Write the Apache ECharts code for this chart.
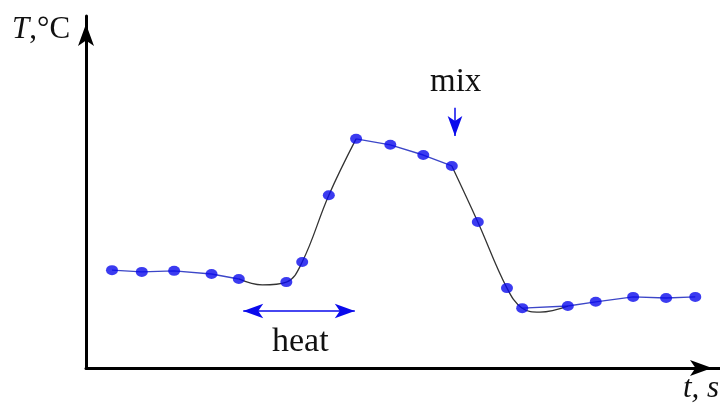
<!DOCTYPE html>
<html>
<head>
<meta charset="utf-8">
<script src="https://cdn.jsdelivr.net/npm/echarts@6/dist/echarts.min.js"></script>
<style>
html,body{margin:0;padding:0;background:#fff;}
#chart{width:720px;height:405px;}
</style>
</head>
<body>
<div id="chart"></div>
<script>
// Measured points (arbitrary units: time t, temperature T)
const timeS = [4.1, 8.8, 13.9, 19.8, 24.1, 31.6, 34.1, 38.3, 42.6, 48.0, 53.2, 57.7, 61.8, 66.4, 68.8, 76.0, 80.4, 86.3, 91.5, 96.1];
const tempC = [27.8, 27.3, 27.6, 26.7, 25.3, 24.4, 30.1, 49.1, 65.1, 63.4, 60.5, 57.4, 41.5, 22.7, 17.0, 17.6, 18.8, 20.2, 19.9, 20.2];

// Fitted (black) curve through the transitions
const heatCurveT = [24.1, 27.8, 31.6, 34.1, 38.3, 42.6];
const heatCurveV = [25.3, 23.6, 24.4, 30.1, 49.1, 65.1];
const coolCurveT = [57.7, 61.8, 66.4, 68.8, 71.6, 76.0];
const coolCurveV = [57.4, 41.5, 22.7, 17.0, 15.9, 17.6];

// Blue connecting segments (index ranges into the measured points)
const blueSegments = [[0, 4], [8, 11], [14, 19]];

// Annotations
const heatArrow = { t0: 24.8, t1: 42.4, T: 16.2, label: 'heat' };
const mixArrow = { t: 58.2, T0: 73.9, T1: 65.9, label: 'mix' };
const axisNames = { y: 'T', yUnit: ',°C', x: 't, s' };

const pts = timeS.map((t, i) => [t, tempC[i]]);
const zip = (a, b) => a.map((v, i) => [v, b[i]]);

const blueColor = '#0a0aec';
const series = [];
blueSegments.forEach(([a, b]) => {
  series.push({
    type: 'line', data: pts.slice(a, b + 1), symbol: 'none', silent: true,
    lineStyle: { color: '#3c46c8', width: 1.4 }, z: 2
  });
});
series.push({
  type: 'line', data: zip(heatCurveT, heatCurveV), smooth: 0.4, symbol: 'none', silent: true,
  lineStyle: { color: '#333', width: 1.3 }, z: 3
});
series.push({
  type: 'line', data: zip(coolCurveT, coolCurveV), smooth: 0.4, symbol: 'none', silent: true,
  lineStyle: { color: '#333', width: 1.3 }, z: 3
});
series.push({
  type: 'scatter', data: pts, symbol: 'circle', symbolSize: [12, 10], silent: true,
  itemStyle: { color: blueColor }, z: 5,
  markLine: {
    silent: true, animation: false,
    label: { show: false },
    lineStyle: { color: blueColor, width: 1.5, type: 'solid' },
    symbolSize: [11, 20],
    data: [
      [{ coord: [heatArrow.t0, heatArrow.T], symbol: 'arrow' }, { coord: [heatArrow.t1, heatArrow.T], symbol: 'arrow' }],
      [{ coord: [mixArrow.t, mixArrow.T0], symbol: 'none' }, { coord: [mixArrow.t, mixArrow.T1], symbol: 'arrow' }]
    ]
  }
});

const chart = echarts.init(document.getElementById('chart'), null, { renderer: 'canvas' });
const serif = '"Liberation Serif", "Times New Roman", serif';
chart.setOption({
  animation: false,
  backgroundColor: '#fff',
  grid: { left: 86, right: 0, top: 16, bottom: 37 },
  xAxis: {
    type: 'value', min: 0, max: 100,
    axisLine: { show: true, onZero: false, symbol: ['none', 'arrow'], symbolSize: [12, 22], symbolOffset: [0, -8], lineStyle: { color: '#000', width: 3 } },
    axisTick: { show: false }, axisLabel: { show: false }, splitLine: { show: false }
  },
  yAxis: {
    type: 'value', min: 0, max: 100,
    axisLine: { show: true, onZero: false, symbol: ['none', 'arrow'], symbolSize: [12, 22], symbolOffset: [0, -8], lineStyle: { color: '#000', width: 3 } },
    axisTick: { show: false }, axisLabel: { show: false }, splitLine: { show: false }
  },
  graphic: [
    { type: 'text', left: 12, top: 14, style: {
        text: '{i|' + axisNames.y + '}' + axisNames.yUnit, fill: '#111', font: '31px ' + serif,
        rich: { i: { fontStyle: 'italic', fontSize: 31, fontFamily: serif } } } },
    { type: 'text', left: 683, top: 373, style: {
        text: axisNames.x, fill: '#111', font: 'italic 31px ' + serif } },
    { type: 'text', left: 430, top: 66, style: {
        text: mixArrow.label, fill: '#111', font: '33px ' + serif } },
    { type: 'text', left: 272, top: 325, style: {
        text: heatArrow.label, fill: '#111', font: '34px ' + serif } }
  ],
  series: series
});
</script>
</body>
</html>
